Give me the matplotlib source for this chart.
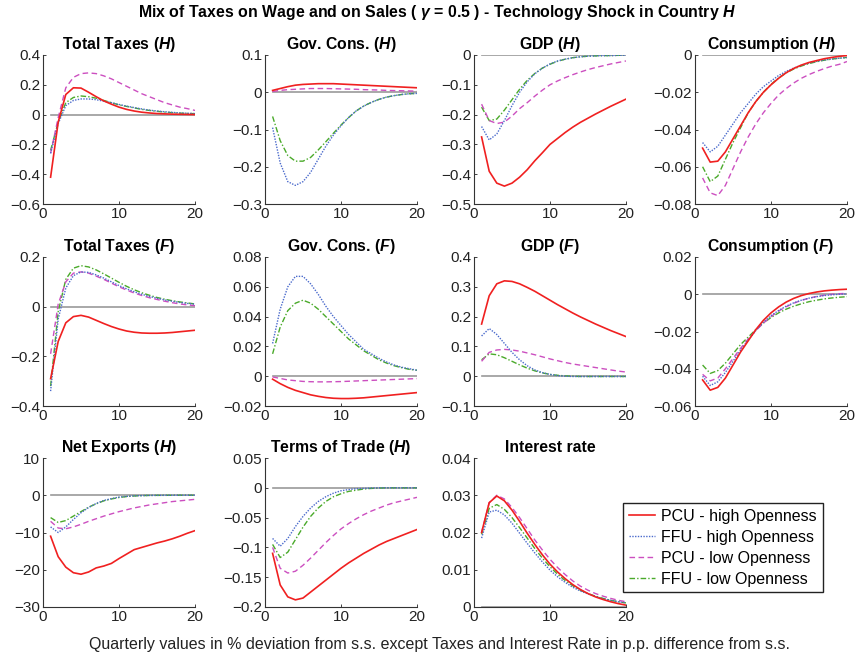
import matplotlib
matplotlib.use("Agg")
import matplotlib.pyplot as plt
import numpy as np

plt.rcParams['font.family'] = ['Liberation Sans', 'DejaVu Sans']
plt.rcParams['mathtext.fontset'] = 'custom'
plt.rcParams['mathtext.it'] = 'Liberation Sans:italic:bold'
plt.rcParams['mathtext.rm'] = 'Liberation Sans'
plt.rcParams['mathtext.bf'] = 'Liberation Sans:bold'

t = list(range(1, 21))

series_names = ["PCU - high Openness", "FFU - high Openness",
                "PCU - low Openness", "FFU - low Openness"]

titles = [r"Total Taxes ($\mathit{H}$)", r"Gov. Cons. ($\mathit{H}$)", r"GDP ($\mathit{H}$)", r"Consumption ($\mathit{H}$)",
          r"Total Taxes ($\mathit{F}$)", r"Gov. Cons. ($\mathit{F}$)", r"GDP ($\mathit{F}$)", r"Consumption ($\mathit{F}$)",
          r"Net Exports ($\mathit{H}$)", r"Terms of Trade ($\mathit{H}$)", "Interest rate"]

# Total Taxes (H)
tt_h_pcu_hi = [-0.42, -0.05, 0.135, 0.18, 0.178, 0.15, 0.12, 0.092, 0.07, 0.05, 0.035, 0.024, 0.016, 0.011, 0.007, 0.005, 0.003, 0.002, 0.001, 0.0]
tt_h_ffu_hi = [-0.26, -0.06, 0.06, 0.095, 0.105, 0.105, 0.1, 0.09, 0.08, 0.068, 0.057, 0.047, 0.038, 0.03, 0.024, 0.019, 0.015, 0.011, 0.009, 0.007]
tt_h_pcu_lo = [-0.26, -0.02, 0.18, 0.25, 0.275, 0.28, 0.275, 0.26, 0.24, 0.215, 0.19, 0.165, 0.14, 0.12, 0.1, 0.08, 0.065, 0.05, 0.04, 0.028]
tt_h_ffu_lo = [-0.24, -0.05, 0.08, 0.115, 0.125, 0.12, 0.11, 0.095, 0.08, 0.065, 0.055, 0.045, 0.035, 0.028, 0.022, 0.017, 0.013, 0.01, 0.008, 0.006]

# Gov. Cons. (H)
gc_h_pcu_hi = [0.005, 0.01, 0.015, 0.019, 0.021, 0.022, 0.023, 0.023, 0.023, 0.022, 0.021, 0.02, 0.019, 0.018, 0.017, 0.016, 0.015, 0.014, 0.013, 0.012]
gc_h_ffu_hi = [-0.095, -0.19, -0.24, -0.25, -0.24, -0.215, -0.18, -0.145, -0.115, -0.09, -0.068, -0.05, -0.037, -0.027, -0.019, -0.013, -0.009, -0.006, -0.004, -0.003]
gc_h_pcu_lo = [0.002, 0.005, 0.007, 0.008, 0.009, 0.01, 0.01, 0.01, 0.0095, 0.009, 0.0085, 0.008, 0.007, 0.0065, 0.006, 0.005, 0.0045, 0.004, 0.0035, 0.003]
gc_h_ffu_lo = [-0.065, -0.13, -0.17, -0.185, -0.185, -0.175, -0.155, -0.133, -0.11, -0.088, -0.068, -0.05, -0.037, -0.027, -0.019, -0.013, -0.009, -0.006, -0.004, -0.003]

# GDP (H)
gdp_h_pcu_hi = [-0.275, -0.39, -0.43, -0.44, -0.43, -0.41, -0.385, -0.355, -0.328, -0.30, -0.28, -0.26, -0.242, -0.226, -0.212, -0.198, -0.185, -0.172, -0.16, -0.148]
gdp_h_ffu_hi = [-0.24, -0.285, -0.265, -0.22, -0.17, -0.125, -0.09, -0.063, -0.044, -0.03, -0.02, -0.014, -0.009, -0.006, -0.004, -0.003, -0.002, -0.002, -0.001, -0.001]
gdp_h_pcu_lo = [-0.165, -0.22, -0.23, -0.225, -0.205, -0.18, -0.16, -0.138, -0.118, -0.1, -0.087, -0.076, -0.066, -0.057, -0.049, -0.042, -0.036, -0.03, -0.025, -0.02]
gdp_h_ffu_lo = [-0.175, -0.22, -0.215, -0.185, -0.15, -0.115, -0.085, -0.062, -0.044, -0.031, -0.021, -0.014, -0.009, -0.006, -0.004, -0.003, -0.002, -0.002, -0.001, -0.001]

# Consumption (H)
c_h_pcu_hi = [-0.05, -0.0575, -0.057, -0.052, -0.045, -0.038, -0.031, -0.025, -0.02, -0.016, -0.0125, -0.0095, -0.0072, -0.0054, -0.004, -0.003, -0.002, -0.0013, -0.0007, -0.0003]
c_h_ffu_hi = [-0.047, -0.052, -0.049, -0.043, -0.037, -0.031, -0.026, -0.021, -0.017, -0.014, -0.011, -0.0088, -0.007, -0.0055, -0.0043, -0.0034, -0.0027, -0.0021, -0.0017, -0.0014]
c_h_pcu_lo = [-0.066, -0.074, -0.0755, -0.07, -0.061, -0.052, -0.044, -0.037, -0.031, -0.026, -0.0215, -0.018, -0.015, -0.0125, -0.0105, -0.0088, -0.0073, -0.006, -0.005, -0.0035]
c_h_ffu_lo = [-0.06, -0.068, -0.065, -0.056, -0.047, -0.039, -0.031, -0.025, -0.02, -0.0158, -0.0123, -0.0096, -0.0075, -0.0059, -0.0046, -0.0036, -0.0028, -0.0022, -0.0017, -0.0013]

# Total Taxes (F)
tt_f_pcu_hi = [-0.29, -0.14, -0.065, -0.04, -0.035, -0.042, -0.055, -0.068, -0.08, -0.09, -0.098, -0.103, -0.106, -0.107, -0.107, -0.106, -0.104, -0.101, -0.098, -0.095]
tt_f_ffu_hi = [-0.34, -0.05, 0.075, 0.125, 0.14, 0.138, 0.128, 0.115, 0.1, 0.085, 0.072, 0.06, 0.05, 0.041, 0.034, 0.027, 0.022, 0.017, 0.013, 0.01]
tt_f_pcu_lo = [-0.19, 0.01, 0.1, 0.135, 0.14, 0.135, 0.123, 0.11, 0.095, 0.08, 0.067, 0.055, 0.045, 0.036, 0.029, 0.022, 0.016, 0.011, 0.007, 0.004]
tt_f_ffu_lo = [-0.32, -0.02, 0.11, 0.155, 0.165, 0.16, 0.148, 0.132, 0.115, 0.098, 0.082, 0.068, 0.056, 0.046, 0.037, 0.03, 0.024, 0.019, 0.015, 0.011]

# Gov. Cons. (F)
gc_f_pcu_hi = [-0.002, -0.005, -0.0075, -0.0095, -0.011, -0.0125, -0.0135, -0.0143, -0.0148, -0.015, -0.015, -0.0148, -0.0145, -0.014, -0.0135, -0.013, -0.0125, -0.012, -0.0115, -0.011]
gc_f_ffu_hi = [0.022, 0.045, 0.06, 0.067, 0.067, 0.062, 0.055, 0.047, 0.04, 0.034, 0.028, 0.023, 0.018, 0.015, 0.012, 0.0095, 0.0075, 0.006, 0.005, 0.004]
gc_f_pcu_lo = [-0.0005, -0.0015, -0.0025, -0.003, -0.0035, -0.0037, -0.0038, -0.0038, -0.0037, -0.0036, -0.0034, -0.0032, -0.003, -0.0028, -0.0026, -0.0024, -0.0022, -0.002, -0.0018, -0.0016]
gc_f_ffu_lo = [0.015, 0.033, 0.044, 0.049, 0.051, 0.049, 0.045, 0.04, 0.035, 0.03, 0.025, 0.021, 0.017, 0.014, 0.011, 0.0088, 0.007, 0.0057, 0.0046, 0.004]

# GDP (F)
gdp_f_pcu_hi = [0.175, 0.27, 0.31, 0.32, 0.318, 0.31, 0.298, 0.285, 0.27, 0.255, 0.24, 0.226, 0.212, 0.199, 0.187, 0.175, 0.164, 0.153, 0.143, 0.133]
gdp_f_ffu_hi = [0.135, 0.16, 0.14, 0.11, 0.08, 0.055, 0.035, 0.021, 0.012, 0.006, 0.002, 0.0, -0.001, -0.001, -0.001, -0.001, -0.001, -0.001, -0.001, -0.001]
gdp_f_pcu_lo = [0.05, 0.08, 0.088, 0.09, 0.088, 0.084, 0.078, 0.072, 0.065, 0.058, 0.052, 0.046, 0.041, 0.037, 0.033, 0.029, 0.025, 0.021, 0.017, 0.014]
gdp_f_ffu_lo = [0.055, 0.075, 0.072, 0.062, 0.05, 0.038, 0.027, 0.018, 0.011, 0.006, 0.003, 0.001, 0.0, -0.001, -0.001, -0.001, -0.001, -0.001, -0.001, -0.001]

# Consumption (F)
c_f_pcu_hi = [-0.046, -0.0515, -0.05, -0.045, -0.038, -0.031, -0.025, -0.019, -0.014, -0.01, -0.0068, -0.0042, -0.0022, -0.0007, 0.0004, 0.0012, 0.0018, 0.0022, 0.0025, 0.0027]
c_f_ffu_hi = [-0.044, -0.049, -0.047, -0.042, -0.036, -0.03, -0.0245, -0.0195, -0.015, -0.0115, -0.0087, -0.0064, -0.0046, -0.0032, -0.0021, -0.0013, -0.0007, -0.0003, 0.0, 0.0002]
c_f_pcu_lo = [-0.043, -0.0465, -0.045, -0.04, -0.0345, -0.029, -0.024, -0.0195, -0.0155, -0.012, -0.009, -0.0067, -0.0048, -0.0033, -0.0021, -0.0012, -0.0005, 0.0, 0.0003, 0.0005]
c_f_ffu_lo = [-0.038, -0.0425, -0.041, -0.037, -0.032, -0.027, -0.023, -0.019, -0.0155, -0.0125, -0.01, -0.008, -0.0064, -0.0051, -0.004, -0.0032, -0.0025, -0.002, -0.0016, -0.0013]

# Net Exports (H)
nx_h_pcu_hi = [-11, -16.5, -19.3, -20.8, -21.2, -20.6, -19.5, -19.0, -18.3, -17.0, -15.8, -14.6, -14.0, -13.4, -12.8, -12.3, -11.7, -11.0, -10.2, -9.5]
nx_h_ffu_hi = [-8.5, -10, -8.5, -6.5, -4.7, -3.3, -2.2, -1.4, -0.9, -0.5, -0.3, -0.15, -0.1, -0.05, -0.03, -0.02, -0.01, 0.0, 0.0, 0.0]
nx_h_pcu_lo = [-7, -8.8, -9.0, -8.5, -7.8, -7.0, -6.3, -5.6, -5.0, -4.4, -3.9, -3.4, -3.0, -2.6, -2.3, -2.0, -1.7, -1.5, -1.3, -1.1]
nx_h_ffu_lo = [-6, -7.3, -6.8, -5.6, -4.4, -3.2, -2.3, -1.5, -1.0, -0.6, -0.35, -0.2, -0.1, -0.05, -0.03, -0.02, -0.01, 0.0, 0.0, 0.0]

# Terms of Trade (H)
tot_h_pcu_hi = [-0.11, -0.163, -0.183, -0.188, -0.185, -0.175, -0.165, -0.155, -0.145, -0.135, -0.126, -0.118, -0.11, -0.103, -0.096, -0.09, -0.085, -0.08, -0.075, -0.07]
tot_h_ffu_hi = [-0.085, -0.098, -0.085, -0.065, -0.048, -0.034, -0.023, -0.015, -0.009, -0.005, -0.003, -0.0015, -0.001, -0.0005, 0.0, 0.0, 0.0, 0.0, 0.0, 0.0]
tot_h_pcu_lo = [-0.1, -0.135, -0.143, -0.14, -0.13, -0.118, -0.105, -0.092, -0.08, -0.069, -0.06, -0.052, -0.045, -0.039, -0.034, -0.029, -0.025, -0.022, -0.019, -0.016]
tot_h_ffu_lo = [-0.095, -0.117, -0.108, -0.087, -0.066, -0.048, -0.034, -0.023, -0.015, -0.01, -0.006, -0.004, -0.002, -0.001, -0.0005, 0.0, 0.0, 0.0, 0.0, 0.0]

# Interest rate
ir_pcu_hi = [0.02, 0.028, 0.0298, 0.0285, 0.026, 0.023, 0.0198, 0.0168, 0.014, 0.0115, 0.0094, 0.0076, 0.006, 0.0047, 0.0036, 0.0027, 0.002, 0.0014, 0.0009, 0.0005]
ir_ffu_hi = [0.0185, 0.0255, 0.026, 0.0247, 0.0225, 0.0198, 0.0171, 0.0145, 0.0121, 0.0099, 0.0081, 0.0066, 0.0053, 0.0043, 0.0035, 0.0028, 0.0022, 0.0018, 0.0014, 0.0011]
ir_pcu_lo = [0.02, 0.028, 0.030, 0.029, 0.0267, 0.024, 0.021, 0.018, 0.0153, 0.0128, 0.0106, 0.0087, 0.007, 0.0056, 0.0045, 0.0036, 0.0029, 0.0023, 0.0018, 0.0014]
ir_ffu_lo = [0.0195, 0.0265, 0.0275, 0.0262, 0.024, 0.0213, 0.0185, 0.0157, 0.0131, 0.0108, 0.0088, 0.0071, 0.0057, 0.0045, 0.0036, 0.0029, 0.0023, 0.0018, 0.0014, 0.0011]

panels = [
    (tt_h_pcu_hi, tt_h_ffu_hi, tt_h_pcu_lo, tt_h_ffu_lo),
    (gc_h_pcu_hi, gc_h_ffu_hi, gc_h_pcu_lo, gc_h_ffu_lo),
    (gdp_h_pcu_hi, gdp_h_ffu_hi, gdp_h_pcu_lo, gdp_h_ffu_lo),
    (c_h_pcu_hi, c_h_ffu_hi, c_h_pcu_lo, c_h_ffu_lo),
    (tt_f_pcu_hi, tt_f_ffu_hi, tt_f_pcu_lo, tt_f_ffu_lo),
    (gc_f_pcu_hi, gc_f_ffu_hi, gc_f_pcu_lo, gc_f_ffu_lo),
    (gdp_f_pcu_hi, gdp_f_ffu_hi, gdp_f_pcu_lo, gdp_f_ffu_lo),
    (c_f_pcu_hi, c_f_ffu_hi, c_f_pcu_lo, c_f_ffu_lo),
    (nx_h_pcu_hi, nx_h_ffu_hi, nx_h_pcu_lo, nx_h_ffu_lo),
    (tot_h_pcu_hi, tot_h_ffu_hi, tot_h_pcu_lo, tot_h_ffu_lo),
    (ir_pcu_hi, ir_ffu_hi, ir_pcu_lo, ir_ffu_lo),
]

ylims = [(-0.6, 0.4), (-0.3, 0.1), (-0.5, 0.0), (-0.08, 0.0),
         (-0.4, 0.2), (-0.02, 0.08), (-0.1, 0.4), (-0.06, 0.02),
         (-30, 10), (-0.2, 0.05), (0.0, 0.04)]
ytick_labels = [
    ["\u22120.6", "\u22120.4", "\u22120.2", "0", "0.2", "0.4"],
    ["\u22120.3", "\u22120.2", "\u22120.1", "0", "0.1"],
    ["\u22120.5", "\u22120.4", "\u22120.3", "\u22120.2", "\u22120.1", "0"],
    ["\u22120.08", "\u22120.06", "\u22120.04", "\u22120.02", "0"],
    ["\u22120.4", "\u22120.2", "0", "0.2"],
    ["\u22120.02", "0", "0.02", "0.04", "0.06", "0.08"],
    ["\u22120.1", "0", "0.1", "0.2", "0.3", "0.4"],
    ["\u22120.06", "\u22120.04", "\u22120.02", "0", "0.02"],
    ["\u221230", "\u221220", "\u221210", "0", "10"],
    ["\u22120.2", "\u22120.15", "\u22120.1", "\u22120.05", "0", "0.05"],
    ["0", "0.01", "0.02", "0.03", "0.04"],
]

colors = ["#f02020", "#4a6acc", "#cc4fc0", "#4aaa2a"]
styles = ["-", (0, (1, 1)), (0, (4, 2.5)), (0, (4, 1.5, 1, 1.5))]
widths = [1.2, 1.0, 1.0, 1.0]

W, H = 859, 658
fig = plt.figure(figsize=(W / 100, H / 100), dpi=100)

lefts = [43, 265, 474, 695]
tops = [55, 257, 458]
aw, ah = 152, 149

handles = None
for i, data in enumerate(panels):
    r, c = divmod(i, 4)
    ax = fig.add_axes([lefts[c] / W, 1 - (tops[r] + ah) / H, aw / W, ah / H])
    ax.plot([1, 20], [0, 0], color="#999999", lw=1.2, zorder=1)
    hs = []
    for k in range(4):
        h, = ax.plot(t, data[k], color=colors[k], ls=styles[k], lw=widths[k], zorder=2 + (3 - k))
        hs.append(h)
    if handles is None:
        handles = hs
    lo, hi = ylims[i]
    ax.set_xlim(0, 20)
    ax.set_ylim(lo, hi)
    ax.set_xticks([0, 10, 20])
    yt = np.linspace(lo, hi, len(ytick_labels[i]))
    ax.set_yticks(yt)
    ax.set_yticklabels(ytick_labels[i])
    for s in ["top", "right"]:
        ax.spines[s].set_visible(False)
    for s in ["left", "bottom"]:
        ax.spines[s].set_color("#333333")
        ax.spines[s].set_linewidth(0.8)
    ax.tick_params(direction="in", length=2, width=0.6, labelsize=11, pad=2, colors="#222222")
    ax.set_title(titles[i], fontsize=11.3, fontweight="bold", pad=4)
    ax.patch.set_alpha(0)

fig.legend(handles, series_names, loc="upper left",
           bbox_to_anchor=(623 / W, 1 - 503 / H), fontsize=11.5,
           frameon=True, fancybox=False, edgecolor="#222222", framealpha=1,
           handlelength=1.65, handletextpad=0.4, labelspacing=0.38, borderpad=0.35,
           borderaxespad=0)

fig.text(437 / W, 1 - 13 / H,
         r"Mix of Taxes on Wage and on Sales ( $\gamma$ = 0.5 ) - Technology Shock in Country $\mathit{H}$",
         ha="center", va="center", fontsize=11.4, fontweight="bold")
fig.text(439 / W, 1 - 645 / H,
         "Quarterly values in % deviation from s.s. except Taxes and Interest Rate in p.p. difference from s.s.",
         ha="center", va="center", fontsize=11.5, color="#222222")

fig.savefig("out.png", dpi=100)
